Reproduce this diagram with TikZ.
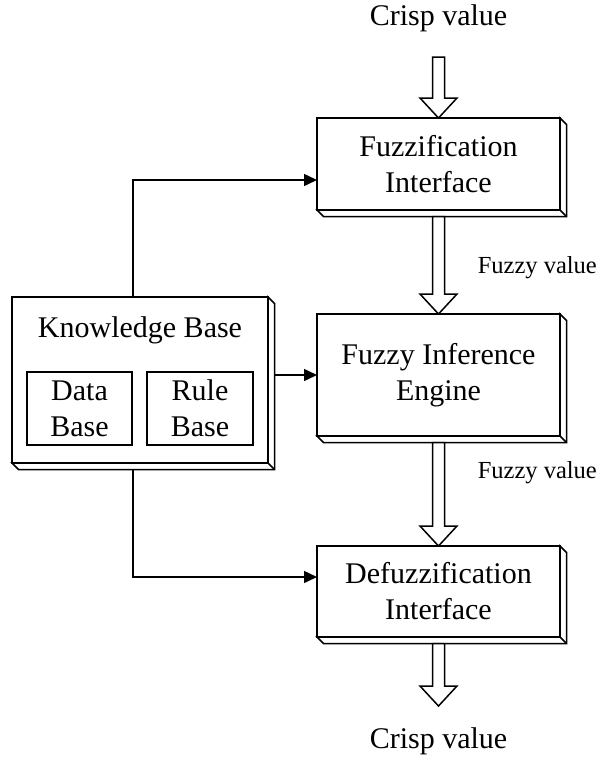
\documentclass[tikz,border=0pt]{standalone}
\usepackage{fontspec}
\setmainfont{Liberation Serif}
\usetikzlibrary{arrows.meta,calc}

% hollow block arrow from #1 (middle of the shaft top) to the tip #2
\newcommand\blockarrow[2]{%
  \draw[fill=white,line join=miter] let \p1=(#1), \p2=(#2) in
    (\x1-6pt,\y1) -- (\x1-6pt,\y2+20pt) -- (\x1-18.5pt,\y2+20pt) -- (\x2,\y2)
    -- (\x1+18.5pt,\y2+20pt) -- (\x1+6pt,\y2+20pt) -- (\x1+6pt,\y1) -- cycle;}

% raised edge along the right and bottom of a box
\newcommand\bevel[1]{%
  \draw[fill=white,line join=miter] (#1.north east) -- ++(6.5,6.5)
    -- ($(#1.south east)+(6.5,6.5)$) -- ($(#1.south west)+(6.5,6.5)$)
    -- (#1.south west) -- (#1.south east) -- cycle;
  \draw (#1.south east) -- ++(6.5,6.5);}

\begin{document}
\begin{tikzpicture}[x=1pt,y=-1pt,line width=1.5pt,
  box/.style={draw,fill=white,rectangle,inner sep=0pt,outer sep=0pt,
    align=center,font=\fontsize{30}{36}\selectfont},
  label/.style={inner sep=0pt,font=\fontsize{30}{36}\selectfont},
  small/.style={inner sep=0pt,font=\fontsize{24.5}{29}\selectfont},
  link/.style={-{Triangle[length=13pt,width=12pt]},line width=1.5pt}]

\useasboundingbox (0,0) rectangle (603,758);

% main processing chain
\node[box,minimum width=243pt,minimum height=92pt] (fuz) at (438.5,164)
  {Fuzzification\\Interface};
\bevel{fuz}
\node[box,minimum width=243pt,minimum height=122pt] (inf) at (438.5,375)
  {Fuzzy Inference\\Engine};
\bevel{inf}
\node[box,minimum width=243pt,minimum height=91pt] (def) at (438.5,591.5)
  {Defuzzification\\Interface};
\bevel{def}

% knowledge base with its two parts
\node[box,minimum width=256pt,minimum height=166pt] (kb) at (140,380) {};
\bevel{kb}
\node[label,anchor=base] (kbt) at (140,337) {Knowledge Base};
\node[box,minimum width=105pt,minimum height=73pt] (data) at (79.5,408.5)
  {Data\\Base};
\node[box,minimum width=106pt,minimum height=73pt] (rule) at (200,408.5)
  {Rule\\Base};

% inputs and outputs
\node[label,anchor=base] (cin) at (438.5,25) {Crisp value};
\node[label,anchor=base] (cout) at (438.5,748) {Crisp value};
\node[small,anchor=base west] (fv1) at (477,273) {Fuzzy value};
\node[small,anchor=base west] (fv2) at (477,478) {Fuzzy value};

\coordinate (inTop) at (438.5,57);
\coordinate (outTip) at (438.5,706);
\coordinate (fuzB) at ($(fuz.south)+(0,6.5)$);
\coordinate (infB) at ($(inf.south)+(0,6.5)$);
\coordinate (defB) at ($(def.south)+(0,6.5)$);

\blockarrow{inTop}{fuz.north}
\blockarrow{fuzB}{inf.north}
\blockarrow{infB}{def.north}
\blockarrow{defB}{outTip}

% knowledge base links
\coordinate (kbUp) at ($(kb.north west)+(121,0)$);
\coordinate (kbDown) at ($(kb.south west)+(121,6.5)$);
\coordinate (kbRight) at ($(kb.east)+(6.5,0)$);
\draw[link] (kbUp) |- ($(fuz.north west)+(0,62)$);
\draw[link] (inf.west -| kbRight) -- (inf.west);
\draw[link] (kbDown) |- ($(def.north west)+(0,31)$);
\end{tikzpicture}
\end{document}
